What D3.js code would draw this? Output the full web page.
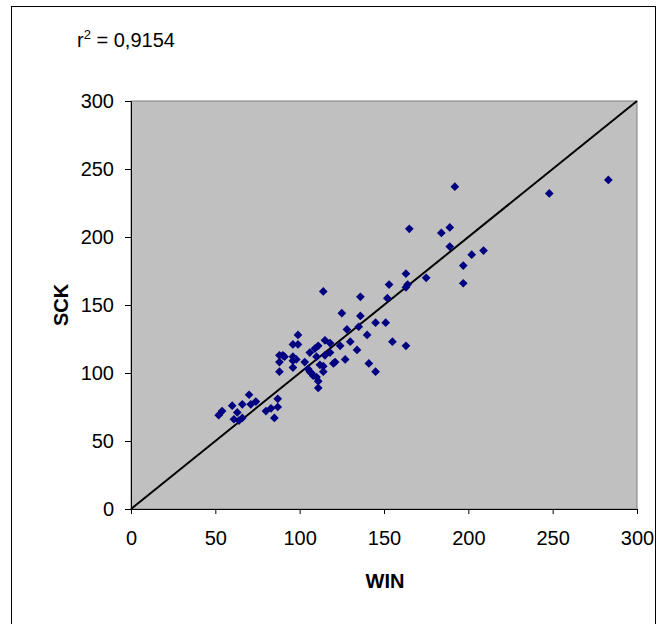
<!DOCTYPE html>
<html>
<head>
<meta charset="utf-8">
<script src="https://cdn.jsdelivr.net/npm/d3@7"></script>
<style>
  html, body { margin: 0; padding: 0; background: #fff; }
  svg { display: block; }
  text { font-family: Arial, "Liberation Sans", sans-serif; }
</style>
</head>
<body>
<script>
// WIN vs SCK measurements
const win = [52, 54, 60, 61, 63, 64, 66, 66, 70, 71, 74, 80, 83, 85, 87, 87,
  88, 88, 88, 90, 91, 96, 96, 96, 96, 98, 99, 99, 103, 105, 106, 106, 107, 108, 109, 110,
  110, 111, 111, 111, 112, 114, 114, 114, 115, 115, 118, 118, 120, 121, 124, 125, 127, 128,
  130, 134, 135, 136, 136, 140, 141, 145, 145, 151, 152, 153, 155, 163, 163, 164, 163, 165,
  175, 184, 189, 189, 192, 197, 197, 202, 209, 248, 283];
const sck = [69, 72, 76, 66, 71, 65, 67, 77, 84, 77, 79, 72, 74, 67, 75, 81,
  101, 108, 113, 113, 112, 104, 109, 112, 121, 110, 121, 128, 108, 103, 115, 101, 100, 98, 118, 97,
  112, 120, 94, 89, 106, 105, 101, 160, 113, 124, 122, 115, 107, 108, 120, 144, 110, 132,
  123, 117, 134, 142, 156, 128, 107, 101, 137, 137, 155, 165, 123, 120, 163, 165, 173, 206,
  170, 203, 207, 193, 237, 179, 166, 187, 190, 232, 242];
const xTicks = [0, 50, 100, 150, 200, 250, 300];
const yTicks = [0, 50, 100, 150, 200, 250, 300];
const rSquared = "0,9154";

const W = 667, H = 624;
const plot = { left: 131, top: 101, right: 637, bottom: 509 };
const FONT = 20;

const svg = d3.select("body").append("svg")
  .attr("width", W).attr("height", H);

// chart frame (open at the bottom edge of the page)
svg.append("rect")
  .attr("x", 11.5).attr("y", 6.5)
  .attr("width", 644).attr("height", 640)
  .attr("fill", "#fff").attr("stroke", "#000").attr("stroke-width", 1);

const x = d3.scaleLinear().domain([0, 300]).range([plot.left, plot.right]);
const y = d3.scaleLinear().domain([0, 300]).range([plot.bottom, plot.top]);

// plot area
svg.append("rect")
  .attr("x", plot.left).attr("y", plot.top)
  .attr("width", plot.right - plot.left).attr("height", plot.bottom - plot.top)
  .attr("fill", "#c0c0c0").attr("stroke", "#808080").attr("stroke-width", 1);

// reference line y = x
svg.append("line")
  .attr("x1", x(0)).attr("y1", y(0))
  .attr("x2", x(300)).attr("y2", y(300))
  .attr("stroke", "#000").attr("stroke-width", 2);

// points
const diamond = d3.symbol().type(d3.symbolSquare).size(38);
svg.append("g").selectAll("path")
  .data(d3.zip(win, sck))
  .join("path")
  .attr("d", diamond)
  .attr("transform", d => `translate(${x(d[0])},${y(d[1])}) rotate(45)`)
  .attr("fill", "#000080");

// axes
const xAxis = d3.axisBottom(x).tickValues(xTicks).tickSize(5).tickSizeOuter(0).tickPadding(17);
const yAxis = d3.axisLeft(y).tickValues(yTicks).tickSize(6).tickSizeOuter(0).tickPadding(11);

const gx = svg.append("g").attr("transform", `translate(0,${plot.bottom})`).call(xAxis);
const gy = svg.append("g").attr("transform", `translate(${plot.left},0)`).call(yAxis);
[gx, gy].forEach(g => {
  g.selectAll(".domain").attr("stroke", "#000");
  g.selectAll(".tick line").attr("stroke", "#000");
  g.selectAll(".tick text").attr("font-size", FONT).attr("fill", "#000")
    .attr("font-family", "Arial, 'Liberation Sans', sans-serif");
});

// axis titles
svg.append("text")
  .attr("x", (plot.left + plot.right) / 2 + 1).attr("y", 588)
  .attr("text-anchor", "middle").attr("font-size", FONT).attr("font-weight", "bold")
  .text("WIN");
svg.append("text")
  .attr("transform", `translate(68,${(plot.top + plot.bottom) / 2}) rotate(-90)`)
  .attr("text-anchor", "middle").attr("font-size", FONT).attr("font-weight", "bold")
  .text("SCK");

// coefficient of determination
const r = svg.append("text").attr("x", 77).attr("y", 47).attr("font-size", FONT);
r.append("tspan").text("r");
r.append("tspan").attr("font-size", 13).attr("dy", -8).text("2");
r.append("tspan").attr("dy", 8).text(" = " + rSquared);
</script>
</body>
</html>
